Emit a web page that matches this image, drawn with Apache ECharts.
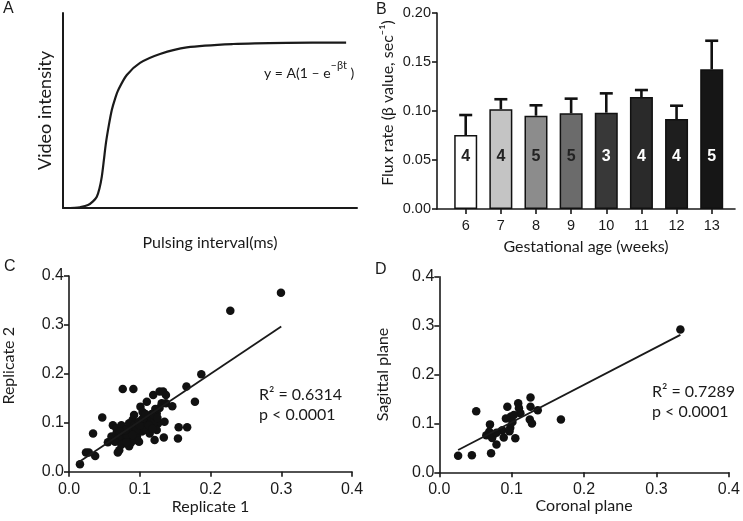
<!DOCTYPE html>
<html><head><meta charset="utf-8">
<script src="https://cdn.jsdelivr.net/npm/echarts@6/dist/echarts.min.js"></script>
<style>html,body{margin:0;padding:0;background:#fff}#c{width:743px;height:521px}</style>
</head><body><div id="c"></div>
<script>
// Panel A: schematic curve (x in % of axis, y in % of axis)
const curveA = [[0,0],[4,0.1],[5.8,0.4],[8.5,1.5],[10.2,3.4],[11.5,5.8],[12.4,10],[13.2,16.1],[13.9,24.5],[14.6,33.3],[15.6,42.5],[16.6,50.3],[17.7,56],[18.8,60.5],[21.7,68.2],[26.2,74.4],[33,79],[42.1,82.4],[57.8,84.1],[76,84.7],[96.3,84.8]];
// Panel B
const weeks = [6,7,8,9,10,11,12,13];
const fluxMean = [0.0755,0.1018,0.0952,0.0976,0.0983,0.1143,0.0918,0.1425];
const fluxUpper = [0.0959,0.1120,0.1058,0.1126,0.1180,0.1214,0.1054,0.1717];
const nCounts = [4,4,5,5,3,4,4,5];
const barColors = ['#ffffff','#c4c4c4','#8c8c8c','#6b6b6b','#383838','#2a2a2a','#1e1e1e','#161616'];
const labelColors = ['#222','#222','#222','#222','#fff','#fff','#fff','#fff'];
// Panel C
const cPoints = [[0.0155,0.015],[0.024,0.039],[0.028,0.039],[0.037,0.032],[0.034,0.078],[0.047,0.111],[0.055,0.060],
[0.060,0.072],[0.069,0.039],[0.071,0.044],[0.076,0.169],[0.091,0.169],[0.062,0.095],[0.067,0.089],[0.074,0.095],
[0.069,0.075],[0.074,0.065],[0.078,0.078],[0.083,0.089],[0.085,0.052],[0.090,0.106],[0.092,0.116],[0.096,0.072],
[0.099,0.061],[0.094,0.092],[0.101,0.133],[0.103,0.106],[0.110,0.143],[0.112,0.112],[0.108,0.092],[0.114,0.078],
[0.119,0.157],[0.121,0.065],[0.124,0.119],[0.128,0.164],[0.133,0.164],[0.137,0.157],[0.131,0.140],[0.137,0.140],
[0.126,0.099],[0.135,0.102],[0.124,0.085],[0.134,0.070],[0.146,0.134],[0.155,0.091],[0.154,0.068],[0.167,0.091],
[0.178,0.143],[0.166,0.174],[0.187,0.199],[0.085,0.099],[0.087,0.082],[0.092,0.095],[0.099,0.102],[0.106,0.099],
[0.110,0.106],[0.115,0.099],[0.117,0.109],[0.119,0.099],[0.103,0.082],[0.110,0.085],[0.078,0.068],[0.083,0.072],
[0.067,0.078],[0.070,0.070],[0.065,0.061],[0.074,0.055],[0.097,0.064],[0.088,0.060],[0.122,0.128],[0.128,0.130],
[0.117,0.118],[0.104,0.122],[0.080,0.085],[0.095,0.085],[0.100,0.095],[0.105,0.110],[0.113,0.095],[0.090,0.075],
[0.081,0.060],[0.072,0.082],[0.118,0.088],[0.125,0.110],[0.108,0.118],[0.228,0.329],[0.2996,0.366]];
const lineC = [[0.012,0.018],[0.300,0.297]];
// Panel D
const dPoints = [[0.026,0.034],[0.045,0.035],[0.051,0.125],[0.0715,0.039],[0.079,0.057],[0.070,0.098],[0.065,0.076],
[0.069,0.083],[0.074,0.076],[0.073,0.070],[0.087,0.086],[0.089,0.071],[0.105,0.0695],[0.094,0.134],[0.092,0.110],
[0.099,0.114],[0.098,0.091],[0.097,0.084],[0.109,0.141],[0.110,0.131],[0.112,0.121],[0.103,0.117],[0.101,0.103],
[0.126,0.153],[0.126,0.134],[0.136,0.127],[0.125,0.108],[0.128,0.100],[0.168,0.108],[0.079,0.081],[0.333,0.292]];
const lineD = [[0.026,0.0456],[0.333,0.281]];

const INK = '#1a1a1a';
const TITLE_FONT = 'Lato';
const TICK_FONT = 'Liberation Sans';

function axisBase(extra) {
  return Object.assign({
    splitLine: {show: false},
    axisLine: {show: true, onZero: false, lineStyle: {color: INK, width: 1.6}},
    axisTick: {show: true, length: 5, lineStyle: {color: INK, width: 1.6}},
    axisLabel: {color: INK, fontFamily: TICK_FONT, fontSize: 15},
    nameLocation: 'middle',
    nameTextStyle: {color: INK, fontFamily: TITLE_FONT, fontSize: 16}
  }, extra);
}

const chart = echarts.init(document.getElementById('c'), null, {renderer: 'canvas'});
const option = {
  animation: false,
  backgroundColor: '#fff',
  grid: [
    {left: 63, top: 13, width: 294, height: 195},
    {left: 437, top: 13, width: 298, height: 196},
    {left: 59.3, top: 276, width: 292.7, height: 195.7},
    {left: 439.3, top: 276.7, width: 293, height: 195.6}
  ],
  xAxis: [
    axisBase({gridIndex: 0, type: 'value', min: 0, max: 100, axisTick: {show: false}, axisLabel: {show: false},
      axisLine: {show: true, onZero: false, lineStyle: {color: INK, width: 2}},
      name: 'Pulsing interval(ms)', nameGap: 27}),
    axisBase({gridIndex: 1, type: 'value', min: 5.183, max: 13.663,
      axisTick: {show: true, length: 5, customValues: weeks, lineStyle: {color: INK, width: 1.6}},
      axisLabel: {color: INK, fontFamily: TICK_FONT, fontSize: 14.5, margin: 9, customValues: weeks},
      name: 'Gestational age (weeks)', nameGap: 30}),
    axisBase({gridIndex: 2, type: 'value', min: 0, max: 0.4, interval: 0.1,
      axisLabel: {color: INK, fontFamily: TICK_FONT, fontSize: 16, margin: 10, formatter: v => v.toFixed(1)},
      name: 'Replicate 1', nameGap: 24}),
    axisBase({gridIndex: 3, type: 'value', min: 0, max: 0.4, interval: 0.1,
      axisLabel: {color: INK, fontFamily: TICK_FONT, fontSize: 16, margin: 9, formatter: v => v.toFixed(1)},
      name: 'Coronal plane', nameGap: 14})
  ],
  yAxis: [
    axisBase({gridIndex: 0, type: 'value', min: 0, max: 100, axisTick: {show: false}, axisLabel: {show: false},
      axisLine: {show: true, onZero: false, lineStyle: {color: INK, width: 2}},
      name: 'Video intensity', nameGap: 9, nameTextStyle: {color: INK, fontFamily: TITLE_FONT, fontSize: 18}}),
    axisBase({gridIndex: 1, type: 'value', min: 0, max: 0.2, interval: 0.05,
      axisLabel: {color: INK, fontFamily: TICK_FONT, fontSize: 14.5, margin: 6, formatter: v => v.toFixed(2)},
      name: 'Flux rate (β value, sec⁻¹)', nameGap: 41,
      nameTextStyle: {color: INK, fontFamily: TITLE_FONT, fontSize: 16, padding: [0, 0, 0, 16]}}),
    axisBase({gridIndex: 2, type: 'value', min: 0, max: 0.4, interval: 0.1,
      axisLabel: {color: INK, fontFamily: TICK_FONT, fontSize: 16, margin: 5, formatter: v => v.toFixed(1)},
      name: 'Replicate 2', nameGap: 52, nameTextStyle: {color: INK, fontFamily: TITLE_FONT, fontSize: 16, padding: [0, 0, 0, 16]}}),
    axisBase({gridIndex: 3, type: 'value', min: 0, max: 0.4, interval: 0.1,
      axisLabel: {color: INK, fontFamily: TICK_FONT, fontSize: 16, margin: 5, formatter: v => v.toFixed(1)},
      name: 'Sagittal plane', nameGap: 48})
  ],
  series: [
    {type: 'line', xAxisIndex: 0, yAxisIndex: 0, data: curveA, smooth: 0.3,
      symbol: 'none', lineStyle: {color: INK, width: 2.2}},
    {type: 'bar', xAxisIndex: 1, yAxisIndex: 1, barWidth: 23,
      data: weeks.map((w, i) => ({
        value: [w, fluxMean[i]],
        itemStyle: {color: barColors[i], borderColor: '#111', borderWidth: 1.5},
        label: {show: true, position: 'insideBottom', distance: 44, formatter: String(nCounts[i]),
          color: labelColors[i], fontFamily: TICK_FONT, fontWeight: 'bold', fontSize: 16}
      }))},
    {type: 'custom', xAxisIndex: 1, yAxisIndex: 1, z: 3,
      data: weeks.map((w, i) => [w, fluxMean[i], fluxUpper[i]]),
      renderItem: function (params, api) {
        const p0 = api.coord([api.value(0), api.value(1)]);
        const p1 = api.coord([api.value(0), api.value(2)]);
        const st = {stroke: '#111', lineWidth: 2.6};
        return {type: 'group', children: [
          {type: 'line', shape: {x1: p0[0], y1: p0[1], x2: p1[0], y2: p1[1]}, style: st},
          {type: 'line', shape: {x1: p1[0] - 6.5, y1: p1[1], x2: p1[0] + 6.5, y2: p1[1]}, style: st}
        ]};
      }},
    {type: 'scatter', xAxisIndex: 2, yAxisIndex: 2, data: cPoints, symbolSize: 8.5,
      itemStyle: {color: '#111', opacity: 1}},
    {type: 'line', xAxisIndex: 2, yAxisIndex: 2, data: lineC, symbol: 'none', lineStyle: {color: INK, width: 1.8}},
    {type: 'scatter', xAxisIndex: 3, yAxisIndex: 3, data: dPoints, symbolSize: 8.5,
      itemStyle: {color: '#111', opacity: 1}},
    {type: 'line', xAxisIndex: 3, yAxisIndex: 3, data: lineD, symbol: 'none', lineStyle: {color: INK, width: 1.8}}
  ],
  graphic: [
    {type: 'text', left: 3, top: 1, style: {text: 'A', fontFamily: TICK_FONT, fontSize: 16, fill: INK}},
    {type: 'text', left: 376, top: 2, style: {text: 'B', fontFamily: TICK_FONT, fontSize: 16, fill: INK}},
    {type: 'text', left: 4, top: 259, style: {text: 'C', fontFamily: TICK_FONT, fontSize: 16, fill: INK}},
    {type: 'text', left: 375, top: 262, style: {text: 'D', fontFamily: TICK_FONT, fontSize: 16, fill: INK}},
    {type: 'text', left: 264, top: 60, style: {
      text: '{n|y = A(1 – e}{s|–βt}{n| )}', fill: INK,
      rich: {n: {fontFamily: TITLE_FONT, fontSize: 14, lineHeight: 20, verticalAlign: 'bottom', fill: INK},
             s: {fontFamily: TITLE_FONT, fontSize: 11, lineHeight: 20, verticalAlign: 'top', fill: INK}}}},
    {type: 'text', left: 259, top: 387, style: {text: 'R² = 0.6314', fontFamily: TITLE_FONT, fontSize: 16, fill: INK}},
    {type: 'text', left: 259, top: 407, style: {text: 'p < 0.0001', fontFamily: TITLE_FONT, fontSize: 16, fill: INK}},
    {type: 'text', left: 652, top: 384, style: {text: 'R² = 0.7289', fontFamily: TITLE_FONT, fontSize: 16, fill: INK}},
    {type: 'text', left: 652, top: 404, style: {text: 'p < 0.0001', fontFamily: TITLE_FONT, fontSize: 16, fill: INK}}
  ]
};
chart.setOption(option);
</script></body></html>
